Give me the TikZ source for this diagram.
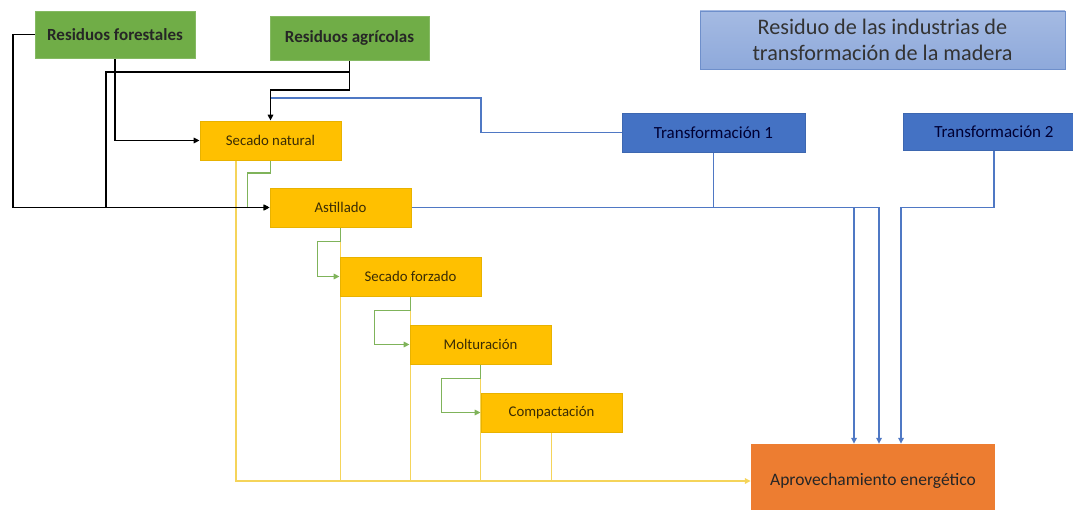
\documentclass[tikz,border=0pt]{standalone}
\usepackage{fontspec}
\setmainfont{Carlito}
\usetikzlibrary{arrows.meta,calc}
\pgfdeclarelayer{bg}
\pgfsetlayers{bg,main}
\definecolor{gfill}{HTML}{70AD47}
\definecolor{gline}{HTML}{7FB35A}
\definecolor{yfill}{HTML}{FFC000}
\definecolor{yborder}{HTML}{E8B200}
\definecolor{yline}{HTML}{F5D45A}
\definecolor{bfill}{HTML}{4472C4}
\definecolor{bline}{HTML}{4F78C4}
\definecolor{ofill}{HTML}{ED7D31}
\definecolor{tfill}{HTML}{8EA9DB}
\definecolor{tborder}{HTML}{6E8FCB}
\definecolor{ytext}{HTML}{3A2C05}
\tikzset{
  box/.style={rectangle,inner sep=0pt,minimum height=39pt,minimum width=141pt},
  greenbox/.style={box,fill=gfill,draw=gfill!85!white,line width=0.8pt,text=black!85,font=\fontsize{17}{19}\selectfont\bfseries},
  yellowbox/.style={box,fill=yfill,draw=yborder,line width=0.8pt,text=ytext,font=\fontsize{14.8}{17}\selectfont},
  bluebox/.style={box,fill=bfill,draw=bfill!90!black,line width=0.6pt,text=black!80!blue,font=\fontsize{17}{19}\selectfont},
  tip/.style={-{Triangle[length=6pt,width=5.5pt]}},
  blk/.style={line width=1.8pt,black},
  blu/.style={line width=1.6pt,bline},
  grn/.style={line width=1.6pt,gline},
  yel/.style={line width=1.8pt,yline}
}
\begin{document}
\begin{tikzpicture}[x=1pt,y=-1pt]
\useasboundingbox (0,0) rectangle (1073,510);
% nodes
\node[greenbox,minimum width=160pt,minimum height=47pt] (rf) at (115,34.5) {Residuos forestales};
\node[greenbox,minimum width=159pt,minimum height=44pt] (ra) at (349.5,38) {Residuos agrícolas};
\node[rectangle,inner sep=0pt,minimum width=365pt,minimum height=58pt,
      top color=tfill!80!white,bottom color=tfill,draw=tborder,line width=0.8pt,
      text=black!80,font=\fontsize{22.2}{26}\selectfont,align=center] (title) at (882.5,40)
      {Residuo de las industrias de\\transformación de la madera};
\node[yellowbox] (sn) at (270.5,140.5) {Secado natural};
\node[yellowbox] (as) at (340.5,207.5) {Astillado};
\node[yellowbox] (sf) at (410.5,276.5) {Secado forzado};
\node[yellowbox] (mo) at (480.5,344.5) {Molturación};
\node[yellowbox] (co) at (551.5,412.5) {Compactación};
\node[bluebox,minimum width=183pt] (t1) at (713.5,132.5) {Transformación 1};
\node[bluebox,minimum width=182pt,minimum height=37pt] (t2) at (994,131.5) {Transformación 2};
\node[rectangle,inner sep=0pt,minimum width=244pt,minimum height=74pt,fill=ofill,
      text=black!85,font=\fontsize{17.5}{20}\selectfont] (ap) at (873,481)
      {Aprovechamiento energético};
\coordinate (j1) at (349.5,72);
\coordinate (j2) at (349.5,90);
\coordinate (b1) at (481,98);
\begin{pgfonlayer}{bg}
% yellow
\draw[yel,tip] ([xshift=-34.5pt]sn.south) |- (ap.west);
\draw[yel] (as.south) -- (as.south |- ap.west);
\draw[yel] (sf.south) -- (sf.south |- ap.west);
\draw[yel] (mo.south) -- (mo.south |- ap.west);
\draw[yel] (co.south) -- (co.south |- ap.west);
% green
\draw[grn,tip] (sn.south) -- ++(0,12.5) -- ++(-23,0) |- (as.west);
\draw[grn,tip] (as.south) -- ++(0,14) -- ++(-23,0) |- (sf.west);
\draw[grn,tip] (sf.south) -- ++(0,14) -- ++(-36,0) |- (mo.west);
\draw[grn,tip] (mo.south) -- ++(0,14) -- ++(-39,0) |- (co.west);
% blue
\draw[blu] (t1.west) -| (b1) -- (b1 -| sn.north);
\draw[blu,tip] (as.east) -| ([xshift=6pt]ap.north);
\draw[blu,tip] (t1.south) |- ([xshift=-19pt]ap.north |- as.east) -- ([xshift=-19pt]ap.north);
\draw[blu,tip] (t2.south) |- ([xshift=28pt]ap.north |- as.east) -- ([xshift=28pt]ap.north);
% black
\draw[blk,tip] (rf.west) -- ++(-22,0) |- (as.west);
\draw[blk,tip] (rf.south) |- (sn.west);
\draw[blk,tip] (ra.south) -- (j1) -| (106,207.5) -- (as.west);
\draw[blk,tip] (ra.south) -- (j2) -| (sn.north);
\end{pgfonlayer}
\end{tikzpicture}
\end{document}
